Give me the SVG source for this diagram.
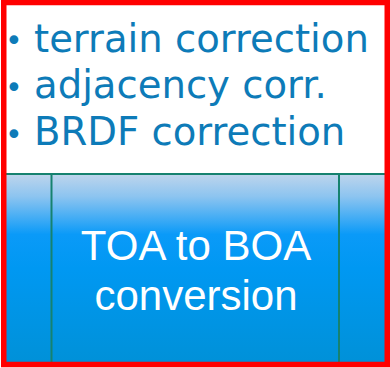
<svg xmlns="http://www.w3.org/2000/svg" width="390" height="368" viewBox="0 0 390 368">
  <defs>
    <linearGradient id="blueFill" x1="0" y1="0" x2="0" y2="1">
      <stop offset="0" stop-color="#bed5ec"/>
      <stop offset="0.12" stop-color="#8cc4f0"/>
      <stop offset="0.32" stop-color="#0a9af8"/>
      <stop offset="0.5" stop-color="#0098f2"/>
      <stop offset="1" stop-color="#0091d8"/>
    </linearGradient>
    <style>
      .bullet { font-family: "DejaVu Sans", Verdana, sans-serif; font-size: 38.6px; fill: #0d7bb8; }
      .dot { font-family: "DejaVu Sans", Verdana, sans-serif; font-size: 30px; fill: #0d7bb8; }
      .label { font-family: "Liberation Sans", Arial, sans-serif; font-size: 42px; fill: #ffffff; text-anchor: middle; }
      .rule { stroke: #16826f; stroke-width: 2; fill: none; }
    </style>
  </defs>

  <rect x="0" y="0" width="390" height="368" fill="#ffffff"/>

  <!-- bullet list of corrections -->
  <g id="corrections">
    <text class="dot" x="5" y="51">•</text>
    <text class="bullet" x="34" y="51.5">terrain correction</text>
    <text class="dot" x="5" y="97.5">•</text>
    <text class="bullet" x="34" y="98">adjacency corr.</text>
    <text class="dot" x="5" y="144.5">•</text>
    <text class="bullet" x="34" y="145">BRDF correction</text>
  </g>

  <!-- process box -->
  <g id="toa-boa">
    <rect x="6" y="174" width="379" height="189" fill="url(#blueFill)"/>
    <line class="rule" x1="6" y1="174" x2="385" y2="174"/>
    <line class="rule" x1="51.5" y1="174" x2="51.5" y2="363"/>
    <line class="rule" x1="339" y1="174" x2="339" y2="363"/>
    <text class="label" x="196" y="260">TOA to BOA</text>
    <text class="label" x="196" y="310">conversion</text>
  </g>

  <!-- highlight frame -->
  <g id="frame">
    <rect x="3.75" y="2.5" width="383.5" height="362" fill="none" stroke="#ff0000" stroke-width="5.5"/>
  </g>
</svg>
